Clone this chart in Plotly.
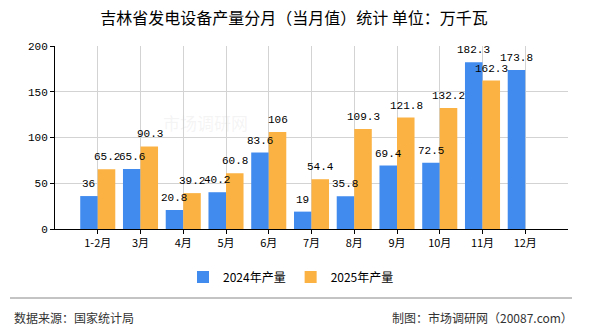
import plotly.graph_objects as go

categories = ["1-2月", "3月", "4月", "5月", "6月", "7月", "8月", "9月", "10月", "11月", "12月"]
values_2024 = [36, 65.6, 20.8, 40.2, 83.6, 19, 35.8, 69.4, 72.5, 182.3, 173.8]
values_2025 = [65.2, 90.3, 39.2, 60.8, 106, 54.4, 109.3, 121.8, 132.2, 162.3, None]
series_names = ["2024年产量", "2025年产量"]
y_ticks = [0, 50, 100, 150, 200]

FONT = "Noto Sans CJK SC"
LABEL_FONT = "Liberation Mono"
PW, PH = 513, 183  # plot area size in px

def fmt(v):
    if v is None:
        return ""
    return str(int(v)) if float(v).is_integer() else str(v)

fig = go.Figure()
fig.add_trace(go.Bar(
    x=categories, y=values_2024, name=series_names[0],
    marker=dict(color="#428BEE", line=dict(width=0)),
))
fig.add_trace(go.Bar(
    x=categories, y=values_2025, name=series_names[1],
    marker=dict(color="#FBB242", line=dict(width=0)),
))

# value labels drawn on top of all bars (offset to each bar of the pair)
for vals, shift in ((values_2024, -9), (values_2025, 9)):
    for c, v in zip(categories, vals):
        if v is None:
            continue
        fig.add_annotation(x=c, y=v, text=fmt(v), showarrow=False,
                           xshift=shift, yshift=12, yanchor="middle", xanchor="center",
                           font=dict(size=11, family=LABEL_FONT, color="#000000"))

fig.update_layout(
    width=590, height=330,
    margin=dict(l=55, r=22, t=46, b=101),
    paper_bgcolor="white", plot_bgcolor="white",
    barmode="group", bargap=0.18, bargroupgap=0,
    font=dict(family=FONT, size=11, color="#000000"),
    title=dict(text="吉林省发电设备产量分月（当月值）统计 单位：万千瓦",
               x=294 / 590, xanchor="center", y=1 - 18 / 330, yanchor="middle",
               font=dict(size=16, family=FONT, color="#000000")),
    showlegend=True,
    legend=dict(orientation="h", x=(291 - 55) / PW, xanchor="center",
                y=-(277 - 229) / PH, yanchor="middle",
                font=dict(size=12, family=FONT), itemwidth=30, traceorder="normal"),
)
fig.update_xaxes(
    type="category", range=[-1, 11],
    showline=True, linecolor="#000000", linewidth=1,
    showgrid=True, gridcolor="#D3D3D3", gridwidth=1,
    ticks="outside", ticklen=4, tickcolor="#000000",
    tickfont=dict(size=11, family=FONT),
)
fig.update_yaxes(
    range=[0, 200], tickvals=y_ticks,
    showline=True, linecolor="#000000", linewidth=1,
    showgrid=True, gridcolor="#D3D3D3", gridwidth=1,
    ticks="outside", ticklen=4, tickcolor="#000000",
    tickfont=dict(size=11, family=LABEL_FONT),
    zeroline=False,
)
# footer separator and texts
fig.add_shape(type="line", xref="paper", yref="paper",
              x0=(10 - 55) / PW, x1=(572 - 55) / PW, y0=-(298 - 229) / PH, y1=-(298 - 229) / PH,
              line=dict(color="#888888", width=1))
fig.add_annotation(text="数据来源：国家统计局", xref="paper", yref="paper",
                   x=(12 - 55) / PW, y=-(317 - 229) / PH, xanchor="left", yanchor="middle",
                   showarrow=False, font=dict(size=12, family=FONT, color="#333333"))
fig.add_annotation(text="制图：市场调研网（20087.com）", xref="paper", yref="paper",
                   x=(575 - 55) / PW, y=-(317 - 229) / PH, xanchor="right", yanchor="middle",
                   showarrow=False, font=dict(size=12, family=FONT, color="#333333"))
# faint watermark
fig.add_annotation(text="市场调研网", xref="paper", yref="paper",
                   x=(205 - 55) / PW, y=(229 - 122) / PH, xanchor="center", yanchor="middle",
                   showarrow=False, font=dict(size=17, family=FONT, color="rgba(200,200,200,0.2)"))

fig.write_html("out.html")
